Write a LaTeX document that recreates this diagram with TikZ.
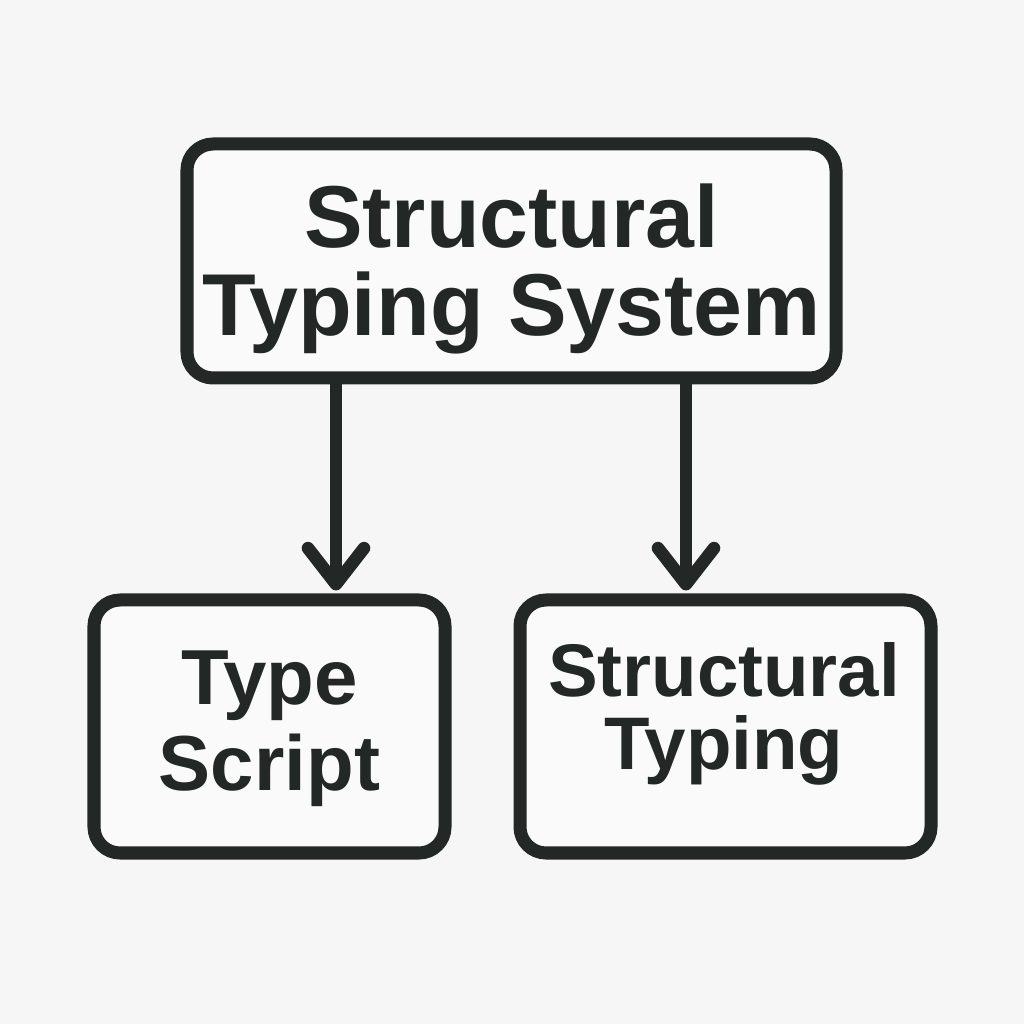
\documentclass[tikz,border=0pt]{standalone}
\usepackage{fontspec}
\setmainfont{Liberation Sans}
\usepackage{xcolor}
\usepackage{tikz}
\usetikzlibrary{arrows.meta}
\definecolor{ink}{RGB}{35,40,39}
\definecolor{paper}{RGB}{246,246,246}
\definecolor{boxfill}{RGB}{250,250,250}

\begin{document}
\begin{tikzpicture}[
  box/.style={draw=ink,fill=boxfill,line width=3.7pt,rounded corners=0.26cm,inner sep=0pt},
  lbl/.style={align=center,text=ink,inner sep=0pt},
  flow/.style={draw=ink,line width=3.6pt,-{Straight Barb[length=0.36cm,width=0.56cm,round]},shorten >=0.03cm}]
  \fill[paper] (0,0) rectangle (10.24,10.24);
  \useasboundingbox (0,0) rectangle (10.24,10.24);
  % boxes
  \node[box,minimum width=6.49cm,minimum height=2.34cm] (sys) at (5.115,7.63) {};
  \node[box,minimum width=3.51cm,minimum height=2.53cm] (ts) at (2.695,2.975) {};
  \node[box,minimum width=4.11cm,minimum height=2.53cm] (st) at (7.255,2.975) {};
  % labels
  \node[lbl,font=\bfseries\fontsize{25}{25}\selectfont] (sysl) at (5.115,7.55) {Structural\\Typing System};
  \node[lbl,font=\bfseries\fontsize{22.2}{24.5}\selectfont] (tsl) at (2.695,2.95) {Type\\Script};
  \node[lbl,font=\bfseries\fontsize{21.2}{20.8}\selectfont] (stl) at (7.24,3.10) {Structural\\Typing};
  \draw[flow] (sys.south -| 3.36,0) -- (ts.north -| 3.36,0);
  \draw[flow] (sys.south -| 6.86,0) -- (st.north -| 6.86,0);
\end{tikzpicture}
\end{document}
